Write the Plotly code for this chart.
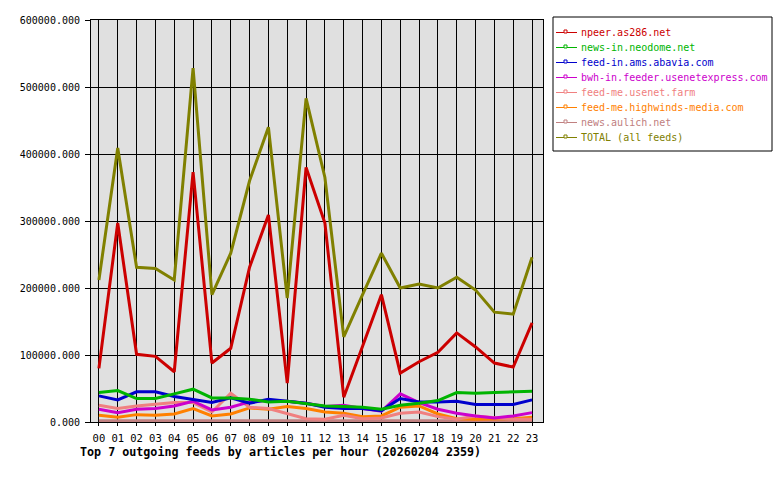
import plotly.graph_objects as go

hours = [f"{h:02d}" for h in range(24)]

npeer = [80000, 297000, 101000, 98000, 75000, 373000, 88000, 110000, 231000, 309000, 58000, 380000,
         297000, 37000, 113000, 190000, 73000, 90000, 104000, 133000, 112000, 88000, 82000, 148000]
neodome = [44000, 47000, 35000, 35000, 42000, 49000, 36000, 36000, 34000, 30000, 31000, 28000,
           24000, 23000, 22000, 19000, 25000, 28000, 32000, 44000, 43000, 44000, 45000, 46000]
abavia = [39000, 33000, 45000, 45000, 38000, 34000, 29000, 36000, 28000, 34000, 31000, 28000,
          22000, 20000, 20000, 17000, 35000, 30000, 30000, 31000, 26000, 26000, 26000, 33000]
usenetexpress = [19000, 14000, 19000, 20000, 24000, 31000, 18000, 22000, 30000, 32000, 31000, 28000,
                 23000, 25000, 20000, 16000, 42000, 29000, 19000, 13000, 9000, 6000, 9000, 14000]
usenetfarm = [25000, 20000, 24000, 27000, 29000, 29000, 15000, 43000, 22000, 20000, 13000, 5000,
              4000, 10000, 5000, 6000, 13000, 15000, 8000, 4000, 9000, 6000, 4000, 4000]
highwinds = [10000, 7000, 11000, 10000, 12000, 20000, 9000, 12000, 21000, 19000, 23000, 20000,
             15000, 13000, 8000, 9000, 22000, 24000, 12000, 5000, 4000, 4000, 5000, 7000]
aulich = [2000] * 24
total = [212000, 409000, 231000, 229000, 212000, 528000, 190000, 252000, 360000, 440000, 185000, 483000,
         365000, 127000, 190000, 252000, 200000, 206000, 200000, 216000, 197000, 164000, 161000, 246000]

names = ["npeer.as286.net", "news-in.neodome.net", "feed-in.ams.abavia.com",
         "bwh-in.feeder.usenetexpress.com", "feed-me.usenet.farm",
         "feed-me.highwinds-media.com", "news.aulich.net", "TOTAL (all feeds)"]
values = [npeer, neodome, abavia, usenetexpress, usenetfarm, highwinds, aulich, total]
colors = ["#cc0000", "#00b400", "#0000cc", "#cc00cc", "#f08080", "#ff8000", "#c08080", "#808000"]

FONT = "DejaVu Sans Mono"

# plot-area geometry in pixels (for placing legend in paper coords)
W, H = 780, 480
L, R, T, B = 91, 237, 20, 58
PW, PH = W - L - R, H - T - B


def px(x):
    return (x - L) / PW


def py(y):
    return (H - B - y) / PH


fig = go.Figure()
for name, vals, col in reversed(list(zip(names, values, colors))):
    fig.add_trace(go.Scatter(
        x=hours, y=vals, mode="lines", name=name,
        line=dict(color=col, width=3), showlegend=False,
    ))

shapes = []
annotations = []
# legend box
shapes.append(dict(type="rect", xref="paper", yref="paper",
                   x0=px(553), x1=px(772), y0=py(151), y1=py(17),
                   line=dict(color="black", width=1), fillcolor="white", layer="above"))
for i, (name, col) in enumerate(zip(names, colors)):
    yy = 32.5 + 15 * i
    shapes.append(dict(type="line", xref="paper", yref="paper",
                       x0=px(556), x1=px(577), y0=py(yy), y1=py(yy),
                       line=dict(color=col, width=1), layer="above"))
    shapes.append(dict(type="rect", xref="paper", yref="paper",
                       x0=px(564), x1=px(567), y0=py(yy + 0.5), y1=py(yy - 2.5),
                       line=dict(color=col, width=1), fillcolor="white", layer="above"))
    annotations.append(dict(text=name, xref="paper", yref="paper",
                            x=px(579), y=py(yy), xanchor="left", yanchor="middle",
                            showarrow=False,
                            font=dict(family=FONT, size=10, color=col)))

annotations.append(dict(
    text="<b>Top 7 outgoing feeds by articles per hour (20260204 2359)</b>",
    x=px(78), y=py(452), xref="paper", yref="paper",
    xanchor="left", yanchor="middle", showarrow=False,
    font=dict(family=FONT, size=11.7, color="black"),
))

fig.update_layout(
    width=W, height=H,
    margin=dict(l=L, r=R, t=T, b=B, autoexpand=False),
    paper_bgcolor="white",
    plot_bgcolor="#e0e0e0",
    font=dict(family=FONT, size=10, color="#000000"),
    showlegend=False,
    shapes=shapes,
    annotations=annotations,
)

fig.update_xaxes(
    type="category", range=[-0.42, 23.58],
    showgrid=True, gridcolor="black", gridwidth=1,
    showline=True, linecolor="black", linewidth=1, mirror=True,
    ticks="outside", ticklen=3, tickcolor="black", ticklabelstandoff=3,
    tickfont=dict(family=FONT, size=10.5),
    zeroline=False, fixedrange=True,
)
fig.update_yaxes(
    range=[0, 600000], dtick=100000, tick0=0, tickformat=".3f",
    showgrid=True, gridcolor="black", gridwidth=1,
    showline=True, linecolor="black", linewidth=1, mirror=True,
    ticks="outside", ticklen=5, tickcolor="black", ticklabelstandoff=3,
    tickfont=dict(family=FONT, size=10),
    zeroline=False, fixedrange=True,
)

fig.write_html("out.html")
